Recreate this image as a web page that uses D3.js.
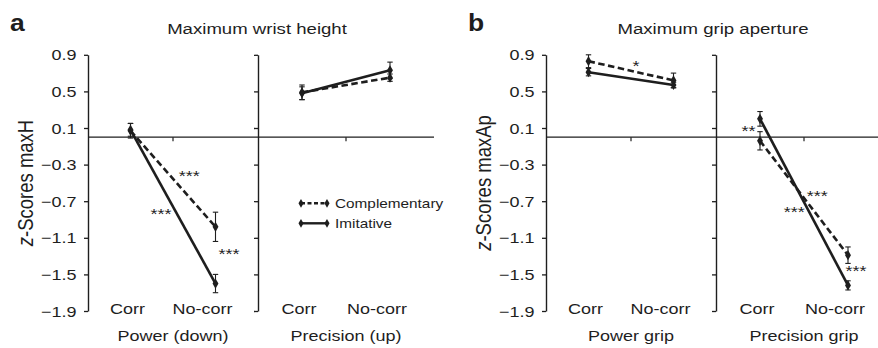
<!DOCTYPE html>
<html><head><meta charset="utf-8">
<script src="https://cdn.jsdelivr.net/npm/d3@7"></script>
<style>
body{margin:0;background:#fff}
svg{display:block}
text{font-family:"Liberation Sans",Arial,Helvetica,sans-serif;fill:#1e1e1e}
</style>
</head><body><svg id="c" width="878" height="348"></svg>
<script>
// ---------- data ----------
const conditions = ["Corr", "No-corr"];
const groupsA = ["Power (down)", "Precision (up)"];
const groupsB = ["Power grip", "Precision grip"];
const yTicks = [-1.9, -1.5, -1.1, -0.7, -0.3, 0.1, 0.5, 0.9];
const seriesNames = ["Complementary", "Imitative"];

// order: group1-Corr, group1-No-corr, group2-Corr, group2-No-corr
const wristComp    = [0.07, -0.98, 0.49, 0.65];
const wristCompErr = [0.08, 0.16, 0.08, 0.04];
const wristImit    = [0.08, -1.60, 0.48, 0.73];
const wristImitErr = [0.07, 0.10, 0.07, 0.09];

const gripComp    = [0.83, 0.62, -0.04, -1.29];
const gripCompErr = [0.07, 0.08, 0.10, 0.09];
const gripImit    = [0.71, 0.57, 0.20, -1.62];
const gripImitErr = [0.04, 0.03, 0.08, 0.05];

// significance marks: at = category index (continuous), v = data value
const sigA = [
  {text: "***", at: 0.69, v: -0.39},
  {text: "***", at: 0.36, v: -0.80},
  {text: "***", at: 1.16, v: -1.24}
];
const sigB = [
  {text: "*",   at: 0.56, v: 0.82},
  {text: "**",  at: 1.87, v: 0.11},
  {text: "***", at: 2.65, v: -0.61},
  {text: "***", at: 2.39, v: -0.785},
  {text: "***", at: 3.09, v: -1.42}
];

// ---------- drawing ----------
const svg = d3.select("#c");
const INK = "#1e1e1e";
const SX = 1.2;

function txt(sel, x, y, s, o = {}) {
  const t = sel.append("text")
    .attr("transform", `translate(${x},${y}) scale(${o.sx ?? SX},1)${o.rot ? ` rotate(${o.rot})` : ""}`)
    .attr("text-anchor", o.anchor || "middle")
    .style("font-size", (o.size || 15) + "px");
  if (o.weight) t.style("font-weight", o.weight);
  if (s !== null) t.text(s);
  return t;
}

const y = d3.scaleLinear().domain([-1.9, 0.9]).range([311, 54.8]);
const fmt = d => (d < 0 ? "\u2212" : "") + Math.abs(d).toFixed(1);

const panels = [
  {letter: "a", title: "Maximum wrist height", ylab: "maxH", edges: [88, 258, 434],
   groups: groupsA, comp: wristComp, compErr: wristCompErr, imit: wristImit, imitErr: wristImitErr,
   sig: sigA, legend: true, titleX: 257, lineEnd: 434},
  {letter: "b", title: "Maximum grip aperture", ylab: "maxAp", edges: [546, 716, 892],
   groups: groupsB, comp: gripComp, compErr: gripCompErr, imit: gripImit, imitErr: gripImitErr,
   sig: sigB, legend: false, titleX: 713, lineEnd: 892}
];

panels.forEach(p => {
  const g = svg.append("g");
  const [e0, e1, e2] = p.edges;
  const inner = [
    d3.scaleBand().domain(conditions).range([e0, e1]),
    d3.scaleBand().domain(conditions).range([e1, e2])
  ];
  const xc = i => {
    const gi = Math.floor(i / 2);
    const sc = inner[gi];
    return sc(conditions[i % 2]) + sc.bandwidth() / 2;
  };
  const xAt = at => {
    const gi = at < 1.5 ? 0 : 1;
    const sc = inner[gi];
    const s = sc.step();
    return p.edges[gi] + s * (at - 2 * gi + 0.5);
  };

  // zero line
  g.append("line").attr("x1", e0).attr("x2", p.lineEnd).attr("y1", y(0)).attr("y2", y(0))
    .attr("stroke", INK).attr("stroke-width", 1.4);
  [0, 1].forEach(gi => {
    const xm = (p.edges[gi] + p.edges[gi + 1]) / 2;
    g.append("line").attr("x1", xm).attr("x2", xm).attr("y1", y(0)).attr("y2", y(0) + 4)
      .attr("stroke", INK).attr("stroke-width", 1.2);
  });

  // y axes (main + separator)
  [e0, e1].forEach(ax => {
    const a = g.append("g").attr("transform", `translate(${ax},0)`)
      .call(d3.axisLeft(y).tickValues(yTicks).tickSize(4).tickSizeOuter(0).tickFormat(""));
    a.select(".domain").attr("stroke", INK).attr("stroke-width", 1.4);
    a.selectAll(".tick line").attr("stroke", INK).attr("stroke-width", 1.3);
  });
  yTicks.forEach(t => txt(g, e0 - 11.5, y(t) + 5.5, fmt(t), {anchor: "end"}));

  // y title
  const yt = txt(g, e0 - 55, 183, null, {rot: -90, size: 18.5});
  yt.append("tspan").style("font-style", "italic").text("z");
  yt.append("tspan").text("-Scores " + p.ylab);

  // title and letter
  txt(g, p.titleX, 34.3, p.title, {size: 15.5});
  txt(g, e0 - 78, 30.5, p.letter, {anchor: "start", size: 23, weight: "bold", sx: 1.15});

  // category & group labels
  [0, 1, 2, 3].forEach(i => {
    const off = i % 2 === 0 ? -3 : -13;
    txt(g, xc(i) + off, 314, conditions[i % 2]);
  });
  p.groups.forEach((gn, gi) => {
    txt(g, (p.edges[gi] + p.edges[gi + 1]) / 2, 340.7, gn);
  });

  // series
  const series = [
    {vals: p.comp, errs: p.compErr, dash: "6.5,3.5"},
    {vals: p.imit, errs: p.imitErr, dash: null}
  ];
  const line = d3.line().x(d => d.x).y(d => y(d.v));
  series.forEach(s => {
    [0, 1].forEach(gi => {
      const pts = [2 * gi, 2 * gi + 1].map(i => ({x: xc(i), v: s.vals[i]}));
      g.append("path").attr("d", line(pts)).attr("fill", "none").attr("stroke", INK)
        .attr("stroke-width", 2.6).attr("stroke-dasharray", s.dash);
    });
  });
  series.forEach(s => {
    s.vals.forEach((v, i) => {
      const x = xc(i), e = s.errs[i];
      g.append("line").attr("x1", x).attr("x2", x).attr("y1", y(v - e)).attr("y2", y(v + e))
        .attr("stroke", INK).attr("stroke-width", 1.1);
      [v - e, v + e].forEach(c => g.append("line").attr("x1", x - 2.7).attr("x2", x + 2.7)
        .attr("y1", y(c)).attr("y2", y(c)).attr("stroke", INK).attr("stroke-width", 1.1));
      g.append("path").attr("d", d3.symbol(d3.symbolDiamond, 30)())
        .attr("transform", `translate(${x},${y(v)})`).attr("fill", INK);
    });
  });

  // significance marks
  p.sig.forEach(m => txt(g, xAt(m.at), y(m.v) + 8.5, m.text, {size: 15}));

  // legend
  if (p.legend) {
    const ly = [203.3, 223.3];
    seriesNames.forEach((n, k) => {
      g.append("line").attr("x1", 301).attr("x2", 327).attr("y1", ly[k]).attr("y2", ly[k])
        .attr("stroke", INK).attr("stroke-width", 2.4)
        .attr("stroke-dasharray", k === 0 ? "4,2.5" : null);
      [301, 327].forEach(x => g.append("path").attr("d", d3.symbol(d3.symbolDiamond, 22)())
        .attr("transform", `translate(${x},${ly[k]})`).attr("fill", INK));
      txt(g, 335, ly[k] + 4.7, n, {anchor: "start", size: 13, sx: 1.18});
    });
  }
});
</script>
</body></html>
